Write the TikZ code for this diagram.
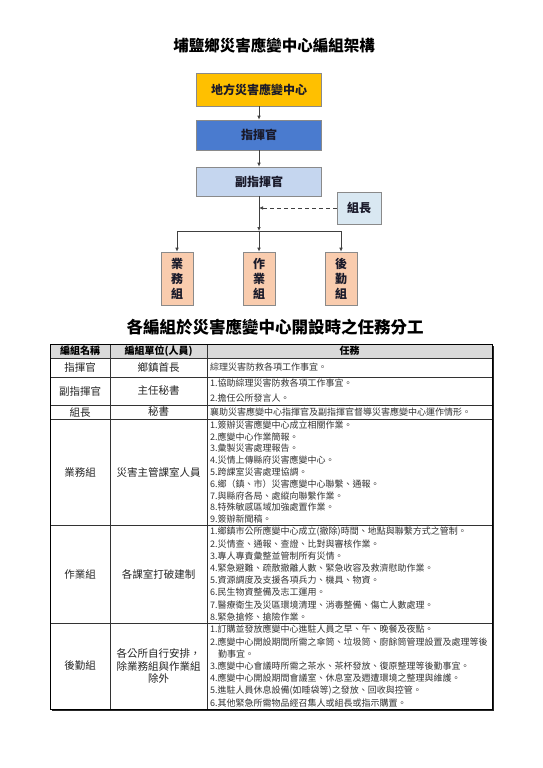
\documentclass[tikz,border=0pt]{standalone}
\usepackage{fontspec}
\setmainfont{Noto Sans CJK TC}
\usetikzlibrary{arrows.meta}
\definecolor{boxgold}{HTML}{FFC000}
\definecolor{boxblue}{HTML}{4A7BCF}
\definecolor{boxlight}{HTML}{C5D6EF}
\definecolor{boxpale}{HTML}{D9E8F2}
\definecolor{boxpeach}{HTML}{F9CCAE}
\definecolor{boxedge}{HTML}{8A8A8A}
\definecolor{hdrgray}{HTML}{D9D9D9}
\definecolor{inktext}{HTML}{1A1A2A}
\tikzset{
  orgbox/.style={draw=boxedge, line width=0.7pt, inner sep=0pt, font=\fontsize{12}{15}\selectfont\bfseries, text=inktext},
  vbox/.style={orgbox, fill=boxpeach, minimum width=32pt, minimum height=53pt, align=center},
  conn/.style={draw=black!75, line width=0.7pt},
  tip/.style={-{Latex[length=4pt,width=3.6pt]}},
  ttitle/.style={font=\fontsize{15.5}{18}\selectfont\bfseries, inner sep=0pt},
  hdr/.style={font=\fontsize{10}{12}\selectfont\bfseries, inner sep=0pt},
  cellc/.style={font=\fontsize{10.5}{12.5}\selectfont, inner sep=0pt, align=center, text=black!85},
  task/.style={anchor=west, align=left, inner sep=0pt, font=\fontsize{9}{12}\selectfont, text=black!80},
  grid/.style={draw=black!80, line width=0.5pt}
}
\begin{document}
\begin{tikzpicture}[x=1pt,y=-1pt]
\useasboundingbox[fill=white] (0,0) rectangle (543,768);

% ---- Title 1
\node[ttitle] (t1) at (274,46) {埔鹽鄉災害應變中心編組架構};

% ---- Org chart
\node[orgbox, fill=boxgold, minimum width=125pt, minimum height=33pt] (local) at (259,89.5) {地方災害應變中心};
\node[orgbox, fill=boxblue, minimum width=125pt, minimum height=30pt] (cmd) at (259,135) {指揮官};
\node[orgbox, fill=boxlight, minimum width=125pt, minimum height=29pt] (vcmd) at (259,181.5) {副指揮官};
\node[orgbox, fill=boxpale, minimum width=44pt, minimum height=32pt] (lead) at (359,208) {組長};

\node[vbox] (g1) at (177,278.5) {業\\務\\組};
\node[vbox] (g2) at (259,278.5) {作\\業\\組};
\node[vbox] (g3) at (341,278.5) {後\\勤\\組};

\coordinate (bar) at (259,231);
\coordinate (barL) at (177,231);
\coordinate (barR) at (341,231);

\draw[conn, tip] (local) -- (cmd);
\draw[conn, tip] (cmd) -- (vcmd);
\draw[conn, tip] (vcmd) -- (bar);
\draw[conn] (barL) -- (barR);
\draw[conn, tip] (barL) -- (g1);
\draw[conn, tip] (bar) -- (g2);
\draw[conn, tip] (barR) -- (g3);
\draw[conn, tip, dashed, dash pattern=on 4pt off 3pt] (lead.west) -- (lead.west -| bar);

% ---- Title 2
\node[ttitle, font=\fontsize{16.5}{19}\selectfont\bfseries] (t2) at (275,327) {各編組於災害應變中心開設時之任務分工};

% ---- Table
\fill[hdrgray] (50,344) rectangle (492,358);
\foreach \yy in {358,377,405,419,525,623} { \draw[grid] (50,\yy) -- (492,\yy); }
\draw[grid] (110,344) -- (110,709);
\draw[grid] (207,344) -- (207,709);
\draw[draw=black, line width=0.8pt] (50,344) rectangle (492,709);
\draw[draw=black!85, line width=1.4pt] (493.6,346) -- (493.6,710.6) -- (52,710.6);

\node[hdr] (h1) at (80,351) {編組名稱};
\node[hdr] (h2) at (158.5,351) {編組單位(人員)};
\node[hdr] (h3) at (349.5,351) {任務};

\node[cellc] (a1) at (80,367.5) {指揮官};
\node[cellc] (b1) at (158.5,367.5) {鄉鎮首長};
\node[task] (c1) at (210,367.5) {綜理災害防救各項工作事宜。};

\node[cellc] (a2) at (80,391) {副指揮官};
\node[cellc] (b2) at (158.5,391) {主任秘書};
\node[task, font=\fontsize{9}{15}\selectfont] (c2) at (210,391) {1.協助綜理災害防救各項工作事宜。\\2.擔任公所發言人。};

\node[cellc] (a3) at (80,412) {組長};
\node[cellc] (b3) at (158.5,412) {秘書};
\node[task] (c3) at (210,412) {襄助災害應變中心指揮官及副指揮官督導災害應變中心運作情形。};

\node[cellc] (a4) at (80,472) {業務組};
\node[cellc] (b4) at (158.5,472) {災害主管課室人員};
\node[task, font=\fontsize{9}{11.8}\selectfont] (c4) at (210,472) {1.簽辦災害應變中心成立相關作業。\\
2.應變中心作業簡報。\\
3.彙製災害處理報告。\\
4.災情上傳縣府災害應變中心。\\
5.跨課室災害處理協調。\\
6.鄉（鎮、市）災害應變中心聯繫、通報。\\
7.與縣府各局、處縱向聯繫作業。\\
8.特殊敏感區域加強處置作業。\\
9.簽辦新聞稿。};

\node[cellc] (a5) at (80,574) {作業組};
\node[cellc] (b5) at (158.5,574) {各課室打破建制};
\node[task, font=\fontsize{9}{12.2}\selectfont] (c5) at (210,574) {1.鄉鎮市公所應變中心成立(撤除)時間、地點與聯繫方式之管制。\\
2.災情查、通報、查證、比對與審核作業。\\
3.專人專責彙整並管制所有災情。\\
4.緊急避難、疏散撤離人數、緊急收容及救濟慰助作業。\\
5.資源調度及支援各項兵力、機具、物資。\\
6.民生物資整備及志工運用。\\
7.醫療衛生及災區環境清理、消毒整備、傷亡人數處理。\\
8.緊急搶修、搶險作業。};

\node[cellc] (a6) at (80,666) {後勤組};
\node[cellc] (b6) at (158.5,666) {各公所自行安排，\\除業務組與作業組\\除外};
\node[task, font=\fontsize{9}{12.2}\selectfont] (c6) at (210,666) {1.訂購並發放應變中心進駐人員之早、午、晚餐及夜點。\\
2.應變中心開設期間所需之傘筒、垃圾筒、廚餘筒管理設置及處理等後\\
\hspace*{8pt}勤事宜。\\
3.應變中心會議時所需之茶水、茶杯發放、復原整理等後勤事宜。\\
4.應變中心開設期間會議室、休息室及週遭環境之整理與維護。\\
5.進駐人員休息設備(如睡袋等)之發放、回收與控管。\\
6.其他緊急所需物品經召集人或組長或指示購置。};
\end{tikzpicture}
\end{document}
